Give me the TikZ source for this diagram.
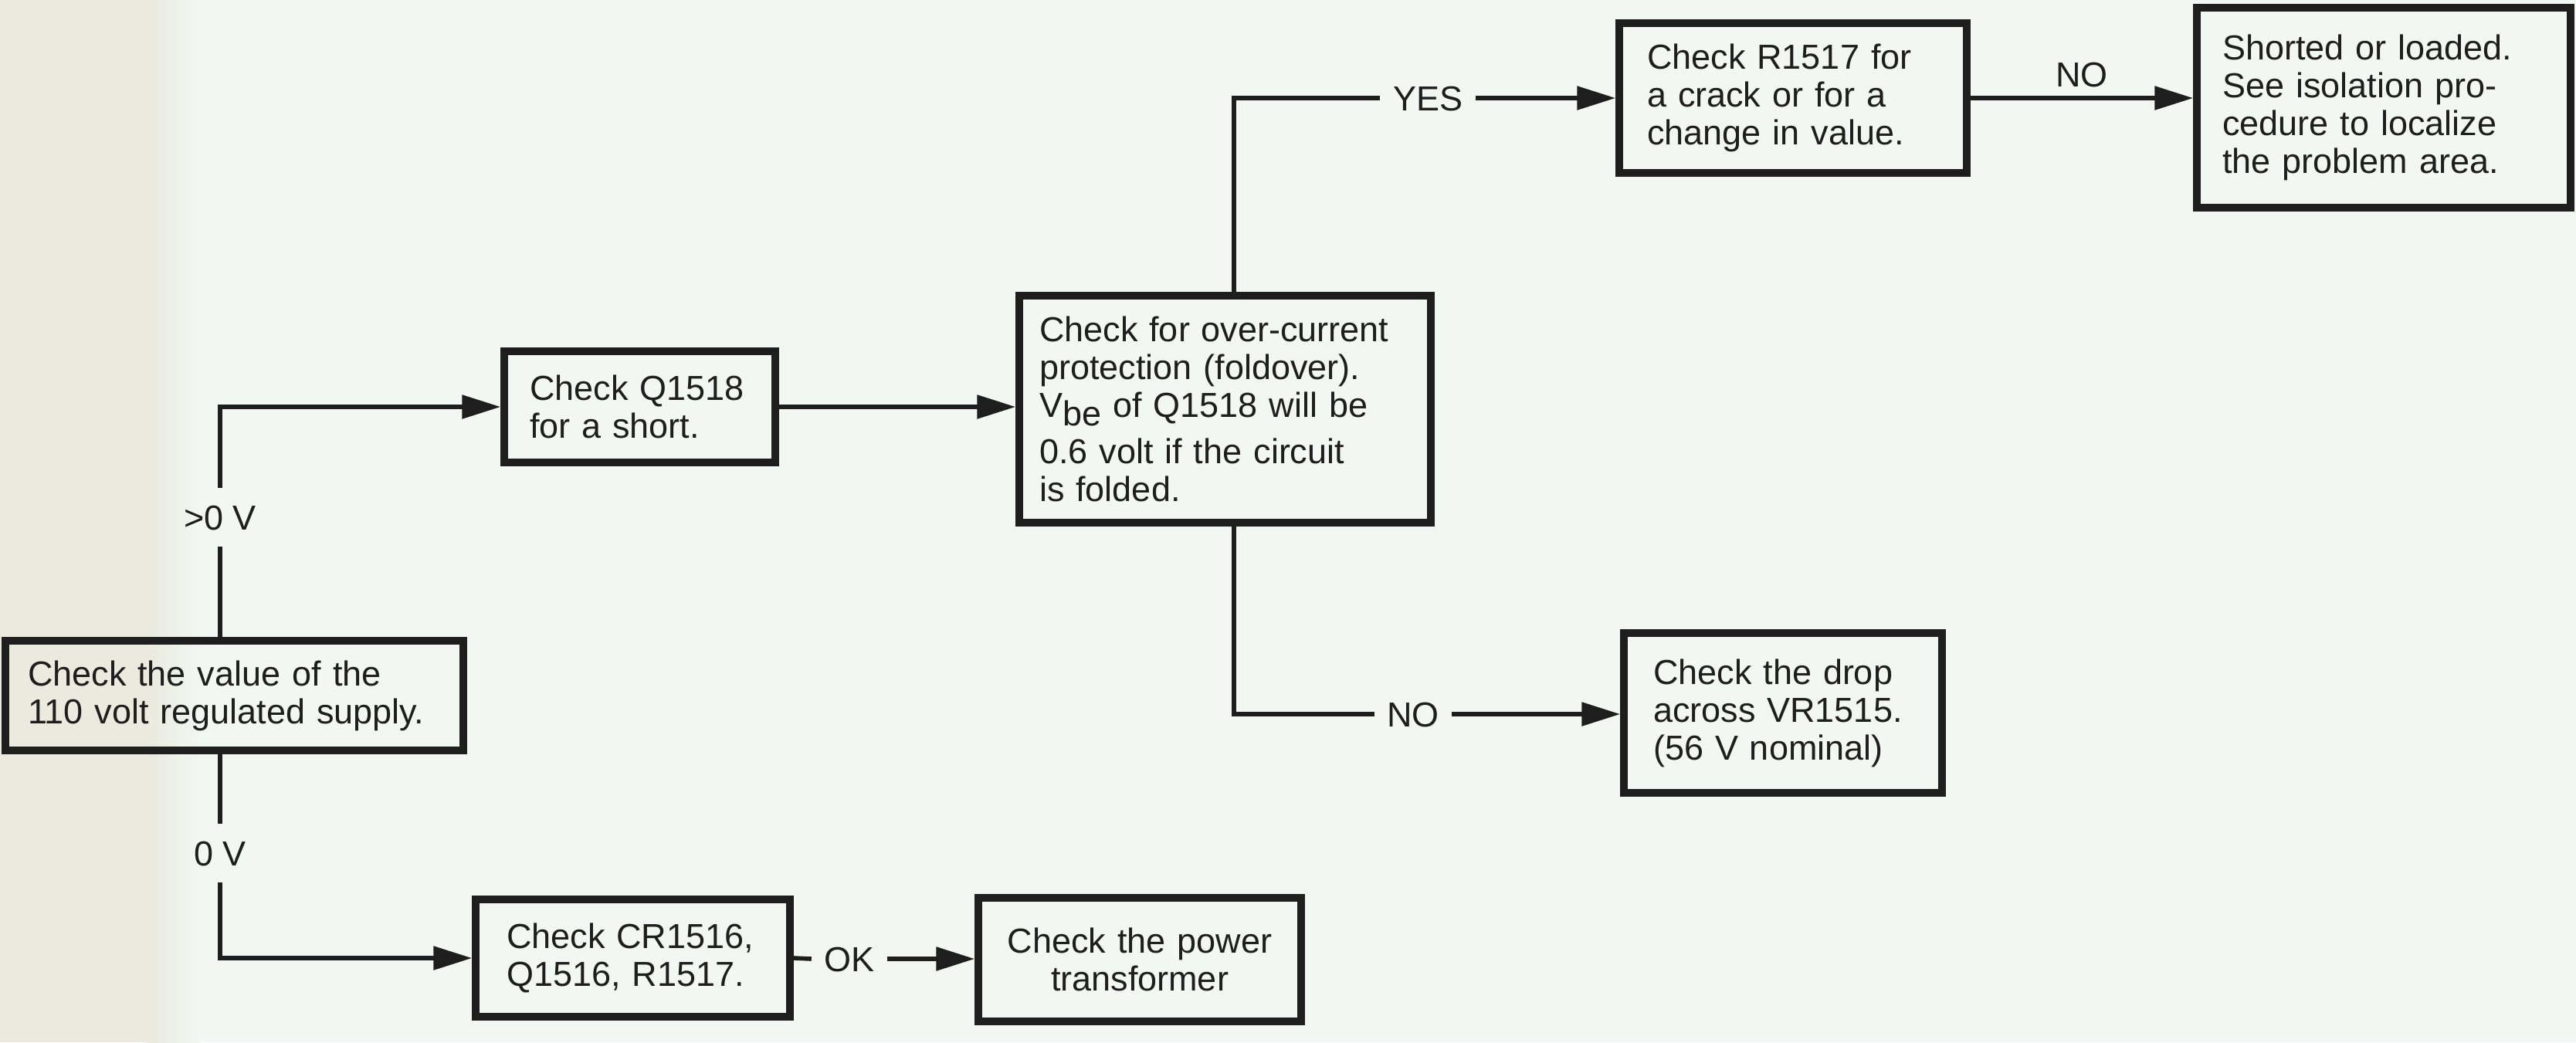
\documentclass[tikz,border=0pt]{standalone}
\usepackage{fontspec}
\setmainfont{Liberation Sans}
\usetikzlibrary{arrows.meta, calc}
\definecolor{paperbg}{RGB}{242, 247, 243}
\definecolor{paperstrip}{RGB}{234, 234, 222}
\definecolor{inkdark}{RGB}{30, 30, 30}

\begin{document}
\begin{tikzpicture}[
    every node/.style={text=inkdark, font=\fontsize{12.8}{13.9}\selectfont},
    box/.style={draw=inkdark, line width=2.7pt, align=left, inner sep=0pt},
    lbl/.style={inner xsep=0.16cm, inner ysep=0.21cm, text height=0.32cm, text depth=0pt},
    conn/.style={draw=inkdark, line width=1.6pt},
    arr/.style={conn, -{Triangle[length=0.5cm, width=0.3cm]}}
  ]
    \useasboundingbox (0,0) rectangle (33.36,-13.5);
    \fill[paperbg] (0,0) rectangle (33.36,-13.5);
    \fill[paperstrip] (0,0) rectangle (1.9,-13.5);
    \shade[left color=paperstrip, right color=paperbg] (1.9,0) rectangle (2.6,-13.5);

    % boxes
    \node[box, minimum width=5.93cm, minimum height=1.42cm, text width=5.35cm] (supply) at (3.035,-9.01)
      {Check the value of the\\110 volt regulated supply.};
    \node[box, minimum width=3.51cm, minimum height=1.44cm, text width=2.85cm] (q1518) at (8.285,-5.27)
      {Check Q1518\\for a short.};
    \node[box, minimum width=5.33cm, minimum height=2.94cm, text width=4.81cm] (fold) at (15.865,-5.30)
      {Check for over-current\\protection (foldover).\\V\raisebox{-0.11cm}{be} of Q1518 will be\\[0.12cm]0.6 volt if the circuit\\is folded.};
    \node[box, minimum width=4.50cm, minimum height=1.94cm, text width=3.78cm] (r1517) at (23.22,-1.27)
      {Check R1517 for\\a crack or for a\\change in value.};
    \node[box, minimum width=4.84cm, minimum height=2.59cm, text width=4.18cm] (shorted) at (30.87,-1.395)
      {Shorted or loaded.\\See isolation pro-\\cedure to localize\\the problem area.};
    \node[box, minimum width=4.12cm, minimum height=2.07cm, text width=3.36cm] (drop) at (23.09,-9.235)
      {Check the drop\\across VR1515.\\(56 V nominal)};
    \node[box, minimum width=4.07cm, minimum height=1.52cm, text width=3.27cm] (cr) at (8.195,-12.41)
      {Check CR1516,\\Q1516, R1517.};
    \node[box, minimum width=4.18cm, minimum height=1.60cm, text width=3.86cm, align=center] (power) at (14.76,-12.43)
      {Check the power\\transformer};

    % labels on the lines
    \node[lbl] (gtz) at (2.85,-6.70) {>0 V};
    \node[lbl] (zv) at (2.85,-11.05) {0 V};
    \node[lbl] (yes) at (18.49,-1.27) {YES};
    \node[lbl] (nob) at (18.30,-9.25) {NO};
    \node[lbl] (ok) at (11.00,-12.42) {OK};

    % connectors
    \draw[conn] (supply.north -| gtz) -- (gtz.south);
    \draw[arr] (gtz.north) |- (q1518.west);
    \draw[arr] (q1518.east) -- (q1518.east -| fold.west);
    \draw[conn] ([xshift=0.115cm]fold.north) |- (yes.west);
    \draw[arr] (yes.east) -- (yes.east -| r1517.west);
    \draw[arr] (r1517.east) -- node[above] (noa) {NO} (r1517.east -| shorted.west);
    \draw[conn] ([xshift=0.115cm]fold.south) |- (nob.west);
    \draw[arr] (nob.east) -- (nob.east -| drop.west);
    \draw[conn] (supply.south -| zv) -- (zv.north);
    \draw[arr] (zv.south) |- (cr.west);
    \draw[conn] (cr.east) -- (ok.west);
    \draw[arr] (ok.east) -- (ok.east -| power.west);
\end{tikzpicture}
\end{document}
